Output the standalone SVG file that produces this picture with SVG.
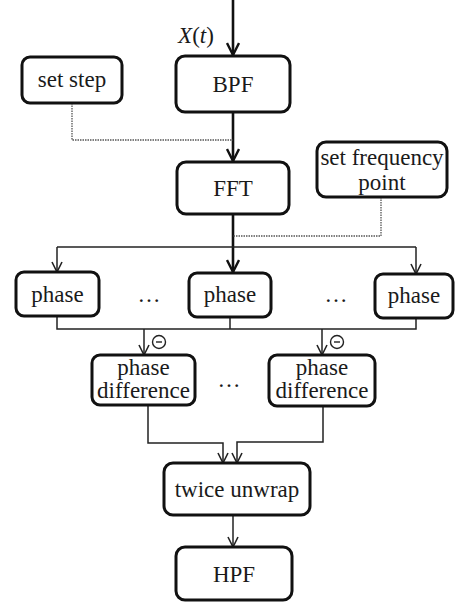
<svg xmlns="http://www.w3.org/2000/svg" width="456" height="602" viewBox="0 0 456 602">
<style>
.box{fill:#fff;stroke:#111;stroke-width:3}
.t{font-family:'Liberation Serif','DejaVu Serif',serif;font-size:23px;fill:#1a1a1a;text-anchor:middle}
.c{fill:none;stroke:#222;stroke-width:1.5}
.ck{fill:none;stroke:#111;stroke-width:2.6}
.d{fill:none;stroke:#555;stroke-width:1.3;stroke-dasharray:1.5 1}
</style>
<defs>
<marker id="a" viewBox="0 0 12 12" refX="11" refY="6" markerWidth="12" markerHeight="12" markerUnits="userSpaceOnUse" orient="auto">
<path d="M1,1 L11,6 L1,11" fill="none" stroke="#222" stroke-width="1.6"/>
</marker>
<marker id="ak" viewBox="0 0 14 14" refX="13" refY="7" markerWidth="14" markerHeight="14" markerUnits="userSpaceOnUse" orient="auto">
<path d="M1,1 L13,7 L1,13" fill="none" stroke="#111" stroke-width="2.4"/>
</marker>
</defs>
<g id="connectors">
<path class="ck" d="M233,0 V55" marker-end="url(#ak)"/>
<path class="ck" d="M233,112 V161" marker-end="url(#ak)"/>
<path class="d" d="M72,103 V140 H233"/>
<path class="ck" d="M233,214 V272" marker-end="url(#ak)"/>
<path class="d" d="M381,197 V236 H233"/>
<path class="c" d="M57,247 H416"/>
<path class="c" d="M57,247 V272" marker-end="url(#a)"/>
<path class="c" d="M416,247 V274" marker-end="url(#a)"/>
<path class="c" d="M57,316 V329 H416 V318"/>
<path class="c" d="M230,317 V329"/>
<path class="c" d="M144,329 V355" marker-end="url(#a)"/>
<path class="c" d="M322,329 V355" marker-end="url(#a)"/>
<path class="c" d="M148,405 V443 H223 V463" marker-end="url(#a)"/>
<path class="c" d="M323,406 V442 H237 V463" marker-end="url(#a)"/>
<path class="c" d="M233,515 V547" marker-end="url(#a)"/>
<g fill="none" stroke="#222" stroke-width="1.4">
<circle cx="159" cy="342" r="6.5"/><path d="M156,342 H162"/>
<circle cx="337" cy="342" r="6.5"/><path d="M334,342 H340"/>
</g>
</g>
<text class="t" font-family="Liberation Serif, serif" x="196" y="43"><tspan font-style="italic">X</tspan>(<tspan font-style="italic">t</tspan>)</text>
<g id="setstep"><rect class="box" x="22" y="57" width="100" height="46" rx="8"/><text class="t" font-family="Liberation Serif, serif" x="72" y="87">set step</text></g>
<g id="bpf"><rect class="box" x="176" y="56" width="114" height="56" rx="9"/><text class="t" font-family="Liberation Serif, serif" x="233" y="92">BPF</text></g>
<g id="fft"><rect class="box" x="177" y="162" width="112" height="52" rx="9"/><text class="t" font-family="Liberation Serif, serif" x="233" y="196">FFT</text></g>
<g id="setfreq"><rect class="box" x="317" y="142" width="130" height="55" rx="9"/><text class="t" font-family="Liberation Serif, serif" x="382" y="165">set frequency</text><text class="t" font-family="Liberation Serif, serif" x="382" y="190">point</text></g>
<g id="phase1"><rect class="box" x="16" y="272" width="83" height="44" rx="8"/><text class="t" font-family="Liberation Serif, serif" x="57.5" y="302">phase</text></g>
<g id="phase2"><rect class="box" x="189" y="273" width="82" height="44" rx="8"/><text class="t" font-family="Liberation Serif, serif" x="230" y="302">phase</text></g>
<g id="phase3"><rect class="box" x="375" y="274" width="78" height="44" rx="8"/><text class="t" font-family="Liberation Serif, serif" x="414" y="303">phase</text></g>
<text class="t" font-family="Liberation Serif, serif" x="149" y="302">…</text>
<text class="t" font-family="Liberation Serif, serif" x="336" y="302">…</text>
<text class="t" font-family="Liberation Serif, serif" x="229" y="387">…</text>
<g id="pdiff1"><rect class="box" x="92" y="355" width="103" height="50" rx="8"/><text class="t" font-family="Liberation Serif, serif" x="143.5" y="375">phase</text><text class="t" font-family="Liberation Serif, serif" x="143.5" y="398">difference</text></g>
<g id="pdiff2"><rect class="box" x="269" y="355" width="106" height="51" rx="8"/><text class="t" font-family="Liberation Serif, serif" x="322" y="375">phase</text><text class="t" font-family="Liberation Serif, serif" x="322" y="398">difference</text></g>
<g id="unwrap"><rect class="box" x="164" y="463" width="146" height="52" rx="9"/><text class="t" font-family="Liberation Serif, serif" x="237" y="497">twice unwrap</text></g>
<g id="hpf"><rect class="box" x="176" y="547" width="116" height="53" rx="9"/><text class="t" font-family="Liberation Serif, serif" x="234" y="582">HPF</text></g>
</svg>
